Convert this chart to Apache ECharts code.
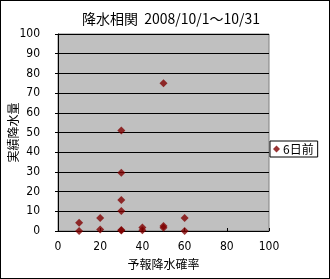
<!DOCTYPE html>
<html><head><meta charset="utf-8">
<script src="https://cdn.jsdelivr.net/npm/echarts@6/dist/echarts.min.js"></script>
<style>html,body{margin:0;padding:0;background:#fff}#c{width:330px;height:279px;box-sizing:border-box;border:1px solid #000}</style>
</head><body><div id="c"></div>
<script>
const titleText = '降水相関  2008/10/1～10/31';
const seriesName = '6日前';
const forecastProb = [10,10,20,20,30,30,30,30,30,30,40,40,50,50,50,60,60];
const actualRain   = [4.2,0,6.6,0.7,51,29.6,15.7,10.2,0.5,0.3,1.8,0.4,75,2.6,1.6,6.6,0];
const xTicks = [0,20,40,60,80,100];
const yTicks = [0,10,20,30,40,50,60,70,80,90,100];
const font = '"Noto Sans CJK JP", sans-serif';
const numFont = '"DejaVu Sans Condensed", "Liberation Sans Narrow", sans-serif';
const chart = echarts.init(document.getElementById('c'), null, {renderer:'canvas'});
chart.setOption({
  animation:false,
  backgroundColor:'#fff',
  title:{text:titleText,left:165,top:6,textAlign:'center',textStyle:{fontFamily:font,fontSize:14,fontWeight:'normal',color:'#000'}},
  legend:{data:[{name:seriesName,icon:'diamond'}],left:269,top:140,orient:'vertical',itemWidth:7,itemHeight:7,itemGap:2,padding:[2,4,2,3],
    borderColor:'#000',borderWidth:1,borderRadius:0,textStyle:{fontFamily:font,fontSize:12,color:'#000',padding:[0,0,0,-2]}},
  grid:{left:57,top:33,width:211,height:197,containLabel:false,outerBoundsMode:'none',backgroundColor:'#c0c0c0',show:true,borderColor:'#808080',borderWidth:1},
  xAxis:{type:'value',min:0,max:100,interval:20,
    name:'予報降水確率',nameLocation:'middle',nameGap:27,nameMoveOverlap:false,nameTextStyle:{fontFamily:font,fontSize:12,color:'#000'},
    axisLine:{show:true,lineStyle:{color:'#000'}},axisTick:{show:true,inside:true,length:3,lineStyle:{color:'#000'}},
    axisLabel:{fontFamily:numFont,fontSize:12,color:'#000',margin:10,formatter:v=>xTicks.includes(v)?String(v):''},splitLine:{show:false}},
  yAxis:{type:'value',min:0,max:100,interval:10,
    name:'実績降水量',nameLocation:'middle',nameGap:39,nameMoveOverlap:false,nameRotate:90,nameTextStyle:{fontFamily:font,fontSize:12,color:'#000'},
    axisLine:{show:true,lineStyle:{color:'#000'}},axisTick:{show:true,length:3,lineStyle:{color:'#000'}},
    axisLabel:{fontFamily:numFont,fontSize:12,color:'#000',margin:18,formatter:v=>yTicks.includes(v)?String(v):''},
    splitLine:{show:true,lineStyle:{color:'#000',width:1}}},
  series:[{name:seriesName,type:'scatter',symbol:'diamond',symbolSize:8,
    itemStyle:{color:'#800000'},data:forecastProb.map((x,i)=>[x,actualRain[i]])}]
});
</script></body></html>
